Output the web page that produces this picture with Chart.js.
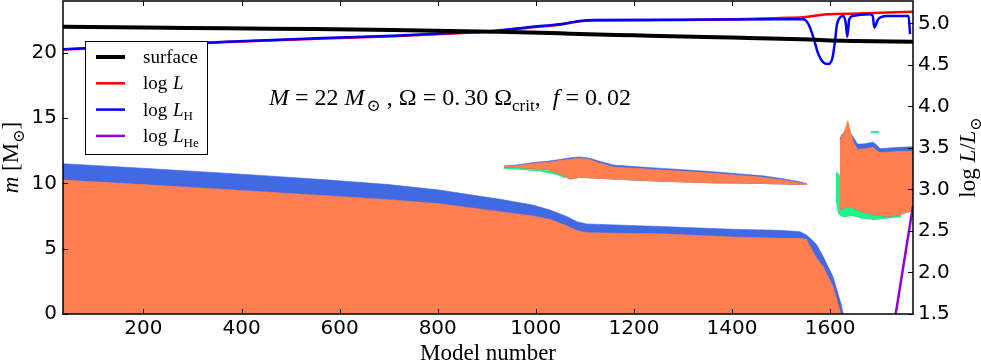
<!DOCTYPE html>
<html>
<head>
<meta charset="utf-8">
<script src="https://cdn.jsdelivr.net/npm/chart.js"></script>
<style>
  html, body { margin: 0; padding: 0; background: #fff; }
</style>
</head>
<body>
<canvas id="kipp" width="981" height="364"></canvas>
<script>
// Axis ticks
const xTicks = [200, 400, 600, 800, 1000, 1200, 1400, 1600];
const massTicks = [0, 5, 10, 15, 20];
const lumTicks = [1.5, 2.0, 2.5, 3.0, 3.5, 4.0, 4.5, 5.0];

// Convective core (orange) and overshoot layer on top of it (blue)
const coreModels = [36, 200, 400, 580, 700, 800, 927, 994, 1029, 1064, 1084, 1104, 1267, 1402, 1498, 1539, 1552, 1565, 1573, 1586, 1606, 1622, 1627];
const coreTop    = [10.25, 9.9, 9.45, 9.03, 8.75, 8.45, 7.83, 7.5, 7.24, 6.73, 6.38, 6.22, 6.12, 5.89, 5.8, 5.79, 5.7, 4.77, 4.25, 3.62, 2.09, 0, 0];
const coreOvTop  = [11.5, 11.15, 10.7, 10.25, 9.9, 9.5, 8.78, 8.34, 7.96, 7.45, 7.06, 6.89, 6.68, 6.48, 6.4, 6.3, 6.04, 5.6, 5.28, 4.38, 2.85, 0.8, 0];

// Intermediate convective shell
const shellModels = [935, 960, 982, 1000, 1023, 1045, 1070, 1090, 1110, 1130, 1158, 1200, 1259, 1310, 1361, 1410, 1463, 1510, 1540, 1553];
const shellTop    = [11.3, 11.35, 11.45, 11.55, 11.6, 11.72, 11.85, 11.92, 11.82, 11.55, 11.25, 11.15, 11.02, 10.9, 10.77, 10.62, 10.46, 10.22, 10.02, 9.93];
const shellOvTop  = [11.32, 11.4, 11.52, 11.62, 11.68, 11.8, 11.95, 12.02, 11.92, 11.68, 11.4, 11.28, 11.14, 11.02, 10.89, 10.74, 10.57, 10.32, 10.1, 9.96];
const shellBottom = [11.22, 11.2, 11.14, 11.1, 11.02, 10.75, 10.3, 10.42, 10.38, 10.34, 10.3, 10.22, 10.12, 10.06, 10.0, 9.98, 9.95, 9.91, 9.88, 9.87];
const shellSemiModels = [935, 975, 1010, 1045, 1060];
const shellSemiTop    = [11.25, 11.2, 11.08, 10.8, 10.5];
const shellSemiBottom = [11.12, 11.02, 10.9, 10.62, 10.35];

// Late convective zone
const lateModels = [1620, 1624, 1630, 1636, 1642, 1648, 1656, 1670, 1688, 1696, 1702, 1720, 1740, 1769];
const lateTop    = [13.3, 13.6, 14.1, 14.8, 13.9, 13.1, 12.6, 12.65, 12.75, 12.5, 12.35, 12.4, 12.45, 12.45];
const lateOvTop  = [13.4, 13.75, 13.85, 13.85, 13.8, 13.5, 13.0, 13.02, 13.15, 12.9, 12.65, 12.7, 12.75, 12.8];
const lateBottom = [8.0, 8.0, 8.1, 8.2, 8.15, 8.1, 7.9, 7.75, 7.6, 7.5, 7.5, 7.45, 7.55, 7.9];
const lateSemiModels = [1612, 1616, 1621, 1630, 1645, 1665, 1690, 1720, 1745];
const lateSemiTop    = [10.8, 10.8, 10.5, 9.5, 9.0, 8.5, 8.0, 7.8, 7.8];
const lateSemiBottom = [8.6, 7.7, 7.5, 7.4, 7.5, 7.3, 7.2, 7.3, 7.4];
const speckModels = [1683, 1700];
const speckMass   = [13.95, 13.9];

// Lines
const surfModels = [36, 200, 370, 550, 709, 913, 1049, 1090, 1200, 1300, 1400, 1500, 1559, 1600, 1650, 1769];
const surfMass   = [21.98, 21.93, 21.86, 21.8, 21.73, 21.6, 21.48, 21.42, 21.32, 21.23, 21.15, 21.07, 21.0, 20.93, 20.88, 20.84];

const lumHModels = [36, 200, 370, 550, 709, 850, 913, 994, 1049, 1090, 1120, 1300, 1500, 1545, 1556, 1566, 1576, 1586, 1596, 1605, 1610, 1614, 1620, 1627, 1632, 1635, 1639, 1647, 1681, 1687, 1690, 1698, 1715, 1760, 1763];
const logLH      = [4.69, 4.73, 4.78, 4.82, 4.85, 4.89, 4.91, 4.96, 4.99, 5.03, 5.04, 5.045, 5.05, 5.05, 4.99, 4.83, 4.63, 4.53, 4.51, 4.59, 4.79, 4.99, 5.07, 5.09, 5.0, 4.84, 5.05, 5.09, 5.11, 5.09, 4.95, 5.05, 5.09, 5.09, 4.87];

const lumModels = [36, 200, 370, 550, 709, 850, 913, 994, 1049, 1090, 1120, 1300, 1450, 1500, 1545, 1594, 1660, 1769];
const logL      = [4.685, 4.725, 4.775, 4.815, 4.845, 4.885, 4.905, 4.955, 4.985, 5.025, 5.035, 5.04, 5.055, 5.065, 5.075, 5.11, 5.12, 5.14];

const lumHeModels = [1731, 1769];
const logLHe      = [1.4, 2.8];

const ORANGE = '#FF7F50';
const OVER = '#4169E1';
const SEMI = '#22F08A';

const datasets = [];
function pts(xs, ys) { return xs.map((x, i) => ({ x: x, y: ys[i] })); }
function add(ds) {
  datasets.push(Object.assign({ pointRadius: 0, tension: 0 }, ds));
  return datasets.length - 1;
}
function edge(xs, ys) {
  return add({ data: pts(xs, ys), yAxisID: 'y', borderWidth: 0, borderColor: 'transparent', fill: false, order: 200 });
}
function band(xs, ys, target, color, order) {
  return add({ data: pts(xs, ys), yAxisID: 'y', borderWidth: 0.6, borderColor: color, backgroundColor: color, fill: target, order: order });
}
function curve(xs, ys, axis, color, width, order) {
  return add({ data: pts(xs, ys), yAxisID: axis, borderColor: color, borderWidth: width, fill: false,
               cubicInterpolationMode: 'monotone', order: order });
}

band(coreModels, coreOvTop, 'origin', OVER, 90);
band(coreModels, coreTop, 'origin', ORANGE, 80);

const shellSemiBase = edge(shellSemiModels, shellSemiBottom);
band(shellSemiModels, shellSemiTop, shellSemiBase, SEMI, 70);
const shellBase = edge(shellModels, shellBottom);
band(shellModels, shellOvTop, shellBase, OVER, 65);
band(shellModels, shellTop, shellBase, ORANGE, 60);

const lateSemiBase = edge(lateSemiModels, lateSemiBottom);
band(lateSemiModels, lateSemiTop, lateSemiBase, SEMI, 55);
const lateBase = edge(lateModels, lateBottom);
band(lateModels, lateOvTop, lateBase, OVER, 50);
band(lateModels, lateTop, lateBase, ORANGE, 45);
curve(speckModels, speckMass, 'y', SEMI, 2, 40);

curve(lumModels, logL, 'y1', '#FF0000', 2.5, 30);
curve(lumHModels, logLH, 'y1', '#0000FF', 2.5, 20);
curve(lumHeModels, logLHe, 'y1', '#9400D3', 2.5, 15);
curve(surfModels, surfMass, 'y', '#000000', 4, 10);

const SERIF = '"Liberation Serif", "DejaVu Serif", serif';

function fontOf(p, size) {
  const s = p.sub ? Math.round(size * 0.7) : size;
  return (p.i ? 'italic ' : '') + s + 'px ' + SERIF;
}
function richWidth(ctx, parts, size) {
  let w = 0;
  parts.forEach(p => { ctx.font = fontOf(p, size); w += ctx.measureText(p.t).width + (p.gap || 0); });
  return w;
}
function richText(ctx, x, y, parts, size, align) {
  let cx = align === 'center' ? x - richWidth(ctx, parts, size) / 2 : x;
  parts.forEach(p => {
    ctx.font = fontOf(p, size);
    ctx.fillText(p.t, cx, y + (p.sub ? size * 0.25 : 0));
    cx += ctx.measureText(p.t).width + (p.gap || 0);
  });
}

const legendItems = [
  { color: '#000000', width: 4, parts: [{ t: 'surface' }] },
  { color: '#FF0000', width: 2.5, parts: [{ t: 'log ', gap: 1 }, { t: 'L', i: true }] },
  { color: '#0000FF', width: 2.5, parts: [{ t: 'log ', gap: 1 }, { t: 'L', i: true }, { t: 'H', sub: true }] },
  { color: '#9400D3', width: 2.5, parts: [{ t: 'log ', gap: 1 }, { t: 'L', i: true }, { t: 'He', sub: true }] }
];

const noteParts = [
  { t: 'M', i: true }, { t: ' = 22 ' }, { t: 'M', i: true, gap: 2 }, { t: '\u2299', sub: true }, { t: ' , \u03A9 = 0.', gap: 4 },
  { t: '30 \u03A9' }, { t: 'crit', sub: true }, { t: ',  ' }, { t: 'f', i: true }, { t: ' = 0.', gap: 4 }, { t: '02' }
];
const massTitle = [{ t: 'm', i: true }, { t: ' [M' }, { t: '\u2299', sub: true }, { t: ']' }];
const lumTitle = [{ t: 'log ' }, { t: 'L', i: true }, { t: '/' }, { t: 'L', i: true }, { t: '\u2299', sub: true }];

const decor = {
  id: 'decor',
  afterDraw(chart) {
    const ctx = chart.ctx, a = chart.chartArea, sc = chart.scales;
    ctx.save();
    ctx.strokeStyle = '#000';
    ctx.lineWidth = 1;
    ctx.beginPath();
    xTicks.forEach(v => {
      const px = Math.round(sc.x.getPixelForValue(v)) + 0.5;
      ctx.moveTo(px, a.bottom); ctx.lineTo(px, a.bottom - 5);
      ctx.moveTo(px, a.top); ctx.lineTo(px, a.top + 5);
    });
    massTicks.forEach(v => {
      const py = Math.round(sc.y.getPixelForValue(v)) + 0.5;
      ctx.moveTo(a.left, py); ctx.lineTo(a.left + 5, py);
    });
    lumTicks.forEach(v => {
      const py = Math.round(sc.y1.getPixelForValue(v)) + 0.5;
      ctx.moveTo(a.right, py); ctx.lineTo(a.right - 5, py);
    });
    ctx.stroke();
    ctx.lineWidth = 1.5;
    ctx.strokeRect(a.left, a.top, a.right - a.left, a.bottom - a.top);

    // legend
    ctx.fillStyle = '#fff';
    ctx.fillRect(85, 41, 122, 113);
    ctx.lineWidth = 1;
    ctx.strokeRect(85.5, 41.5, 122, 113);
    ctx.textBaseline = 'alphabetic';
    legendItems.forEach((it, k) => {
      const cy = 57 + k * 26.3;
      ctx.strokeStyle = it.color;
      ctx.lineWidth = it.width;
      ctx.beginPath(); ctx.moveTo(96, cy); ctx.lineTo(125, cy); ctx.stroke();
      ctx.fillStyle = '#000';
      richText(ctx, 143, cy + 6, it.parts, 19, 'left');
    });

    // annotation
    ctx.fillStyle = '#000';
    richText(ctx, 450, 105, noteParts, 24, 'center');

    // axis titles
    ctx.font = '23px ' + SERIF;
    ctx.textAlign = 'center';
    ctx.fillText('Model number', (a.left + a.right) / 2, 360);
    ctx.textAlign = 'left';

    ctx.save();
    ctx.translate(18, (a.top + a.bottom) / 2);
    ctx.rotate(-Math.PI / 2);
    richText(ctx, 0, 0, massTitle, 23, 'center');
    ctx.restore();

    ctx.save();
    ctx.translate(975, (a.top + a.bottom) / 2);
    ctx.rotate(-Math.PI / 2);
    richText(ctx, 0, 0, lumTitle, 23, 'center');
    ctx.restore();

    ctx.restore();
  }
};

const tickFont = { family: 'DejaVu Sans', size: 20 };
function noPad(s) { s.paddingTop = 0; s.paddingBottom = 0; s.paddingLeft = 0; s.paddingRight = 0; }

new Chart(document.getElementById('kipp'), {
  type: 'line',
  data: { datasets: datasets },
  options: {
    responsive: false,
    animation: false,
    devicePixelRatio: 1,
    layout: { padding: { top: 1, left: 0, right: 0, bottom: 0 } },
    plugins: { legend: { display: false }, tooltip: { enabled: false } },
    events: [],
    scales: {
      x: {
        type: 'linear', position: 'bottom', min: 36, max: 1769,
        grid: { display: false, drawTicks: false }, border: { display: false },
        ticks: { font: tickFont, color: '#000', padding: 3, autoSkip: false, maxRotation: 0, callback: v => String(v) },
        afterBuildTicks: s => { s.ticks = xTicks.map(v => ({ value: v })); },
        afterFit: s => { s.height = 50; noPad(s); }
      },
      y: {
        type: 'linear', position: 'left', min: 0, max: 23.95,
        grid: { display: false, drawTicks: false }, border: { display: false },
        ticks: { font: tickFont, color: '#000', padding: 6, callback: v => String(v) },
        afterBuildTicks: s => { s.ticks = massTicks.map(v => ({ value: v })); },
        afterFit: s => { s.width = 63; noPad(s); }
      },
      y1: {
        type: 'linear', position: 'right', min: 1.5, max: 5.27,
        grid: { display: false, drawTicks: false }, border: { display: false },
        ticks: { font: tickFont, color: '#000', padding: 5, callback: v => v.toFixed(1) },
        afterBuildTicks: s => { s.ticks = lumTicks.map(v => ({ value: v })); },
        afterFit: s => { s.width = 68; noPad(s); }
      }
    }
  },
  plugins: [decor]
});
</script>
</body>
</html>
